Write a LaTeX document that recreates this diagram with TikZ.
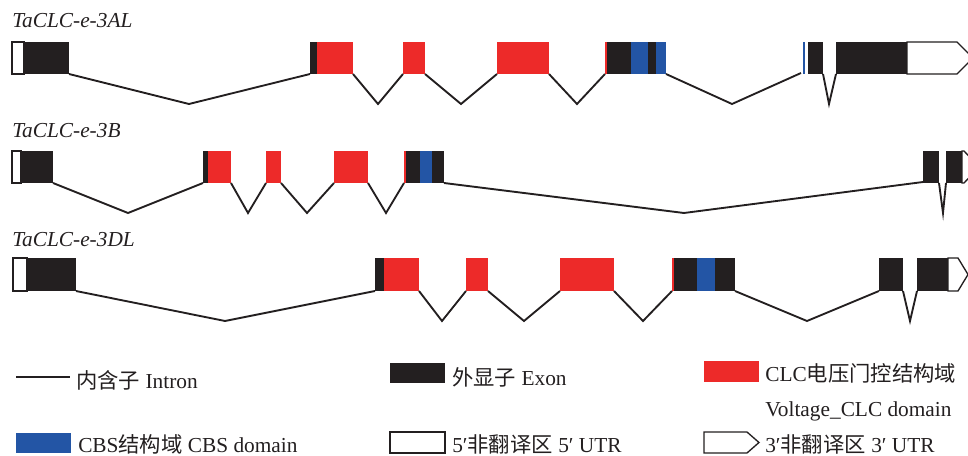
\documentclass[tikz,border=0pt]{standalone}
\usepackage{fontspec}
\setmainfont{Liberation Serif}
\newfontfamily\cjk{Noto Sans CJK SC}
\definecolor{exred}{RGB}{237,42,41}
\definecolor{exblue}{RGB}{35,85,165}
\definecolor{exdark}{RGB}{35,31,32}
\begin{document}
\begin{tikzpicture}[x=0.75pt,y=-0.75pt,
  utr/.style={draw=exdark,fill=white,line width=1pt},
  exon/.style={fill=exdark},
  dom/.style={fill=exred},
  cbs/.style={fill=exblue},
  intron/.style={draw=exdark,line width=1.4pt},
  lab/.style={anchor=base west,inner sep=0pt,text=exdark,font=\fontsize{16}{19}\selectfont\itshape},
  leg/.style={anchor=base west,inner sep=0pt,text=exdark,font=\fontsize{16}{19}\selectfont}]
\useasboundingbox (0,0) rectangle (968,456);
% ---------- TaCLC-e-3AL ----------
\node[lab] (l1) at (12,28) {TaCLC-e-3AL};
\draw[utr] (12,42) rectangle (24,74);
\fill[exon] (24,42) rectangle (69,74);
\draw[intron] (69,74) -- (189,104) -- (310,74);
\fill[exon] (310,42) rectangle (317,74);
\fill[dom] (317,42) rectangle (353,74);
\draw[intron] (353,74) -- (378,104) -- (403,74);
\fill[dom] (403,42) rectangle (425,74);
\draw[intron] (425,74) -- (461,104) -- (497,74);
\fill[dom] (497,42) rectangle (549,74);
\draw[intron] (549,74) -- (577,104) -- (605,74);
\fill[dom] (605,42) rectangle (607,74);
\fill[exon] (607,42) rectangle (631,74);
\fill[cbs] (631,42) rectangle (648,74);
\fill[exon] (648,42) rectangle (656,74);
\fill[cbs] (656,42) rectangle (666,74);
\draw[intron] (666,74) -- (732,104) -- (801,73);
\fill[cbs] (803,42) rectangle (805,74);
\fill[exon] (808,42) rectangle (823,74);
\draw[intron] (823,74) -- (829,104) -- (836,74);
\draw[utr] (907,42) -- (957,42) -- (973,58) -- (957,74) -- (907,74) -- cycle;
\fill[exon] (836,42) rectangle (907,74);
% ---------- TaCLC-e-3B ----------
\node[lab] (l2) at (12,138) {TaCLC-e-3B};
\draw[utr] (12,151) rectangle (21,183);
\fill[exon] (21,151) rectangle (53,183);
\draw[intron] (53,183) -- (128,213) -- (203,183);
\fill[exon] (203,151) rectangle (208,183);
\fill[dom] (208,151) rectangle (231,183);
\draw[intron] (231,183) -- (248,213) -- (266,183);
\fill[dom] (266,151) rectangle (281,183);
\draw[intron] (281,183) -- (307,213) -- (334,183);
\fill[dom] (334,151) rectangle (368,183);
\draw[intron] (368,183) -- (386,213) -- (404,183);
\fill[dom] (404,151) rectangle (406,183);
\fill[exon] (406,151) rectangle (420,183);
\fill[cbs] (420,151) rectangle (432,183);
\fill[exon] (432,151) rectangle (444,183);
\draw[intron] (444,183) -- (684,213) -- (923,182);
\fill[exon] (923,151) rectangle (939,183);
\draw[intron] (939,183) -- (943,213) -- (946,183);
\draw[utr] (962,151) -- (964,151) -- (979,167) -- (964,183) -- (962,183) -- cycle;
\fill[exon] (946,151) rectangle (962,183);
% ---------- TaCLC-e-3DL ----------
\node[lab] (l3) at (12,247) {TaCLC-e-3DL};
\draw[utr] (13,258) rectangle (27,291);
\fill[exon] (27,258) rectangle (76,291);
\draw[intron] (76,291) -- (225,321) -- (375,291);
\fill[exon] (375,258) rectangle (384,291);
\fill[dom] (384,258) rectangle (419,291);
\draw[intron] (419,291) -- (442,321) -- (466,291);
\fill[dom] (466,258) rectangle (488,291);
\draw[intron] (488,291) -- (524,321) -- (560,291);
\fill[dom] (560,258) rectangle (614,291);
\draw[intron] (614,291) -- (643,321) -- (672,291);
\fill[dom] (672,258) rectangle (674,291);
\fill[exon] (674,258) rectangle (697,291);
\fill[cbs] (697,258) rectangle (715,291);
\fill[exon] (715,258) rectangle (735,291);
\draw[intron] (735,291) -- (807,321) -- (879,291);
\fill[exon] (879,258) rectangle (903,291);
\draw[intron] (903,291) -- (910,321) -- (917,291);
\draw[utr] (948,258) -- (958,258) -- (968,274.5) -- (958,291) -- (948,291) -- cycle;
\fill[exon] (917,258) rectangle (948,291);
% ---------- legend ----------
\draw[intron] (16,377) -- (70,377);
\node[leg] (t1) at (76,388) {{\cjk 内含子} Intron};
\fill[exon] (390,363) rectangle (445,383);
\node[leg] (t2) at (452,385) {{\cjk 外显子} Exon};
\fill[dom] (704,361) rectangle (759,382);
\node[leg] (t3) at (765,381) {CLC{\cjk 电压门控结构域}};
\node[leg] (t4) at (765,416) {Voltage\_CLC domain};
\fill[cbs] (16,433) rectangle (71,453);
\node[leg] (t5) at (78,452) {CBS{\cjk 结构域} CBS domain};
\draw[utr] (390,432) rectangle (445,453);
\node[leg] (t6) at (452,452) {5′{\cjk 非翻译区} 5′ UTR};
\draw[utr] (704,432) -- (747,432) -- (759,442.5) -- (747,453) -- (704,453) -- cycle;
\node[leg] (t7) at (765,452) {3′{\cjk 非翻译区} 3′ UTR};
\end{tikzpicture}
\end{document}
